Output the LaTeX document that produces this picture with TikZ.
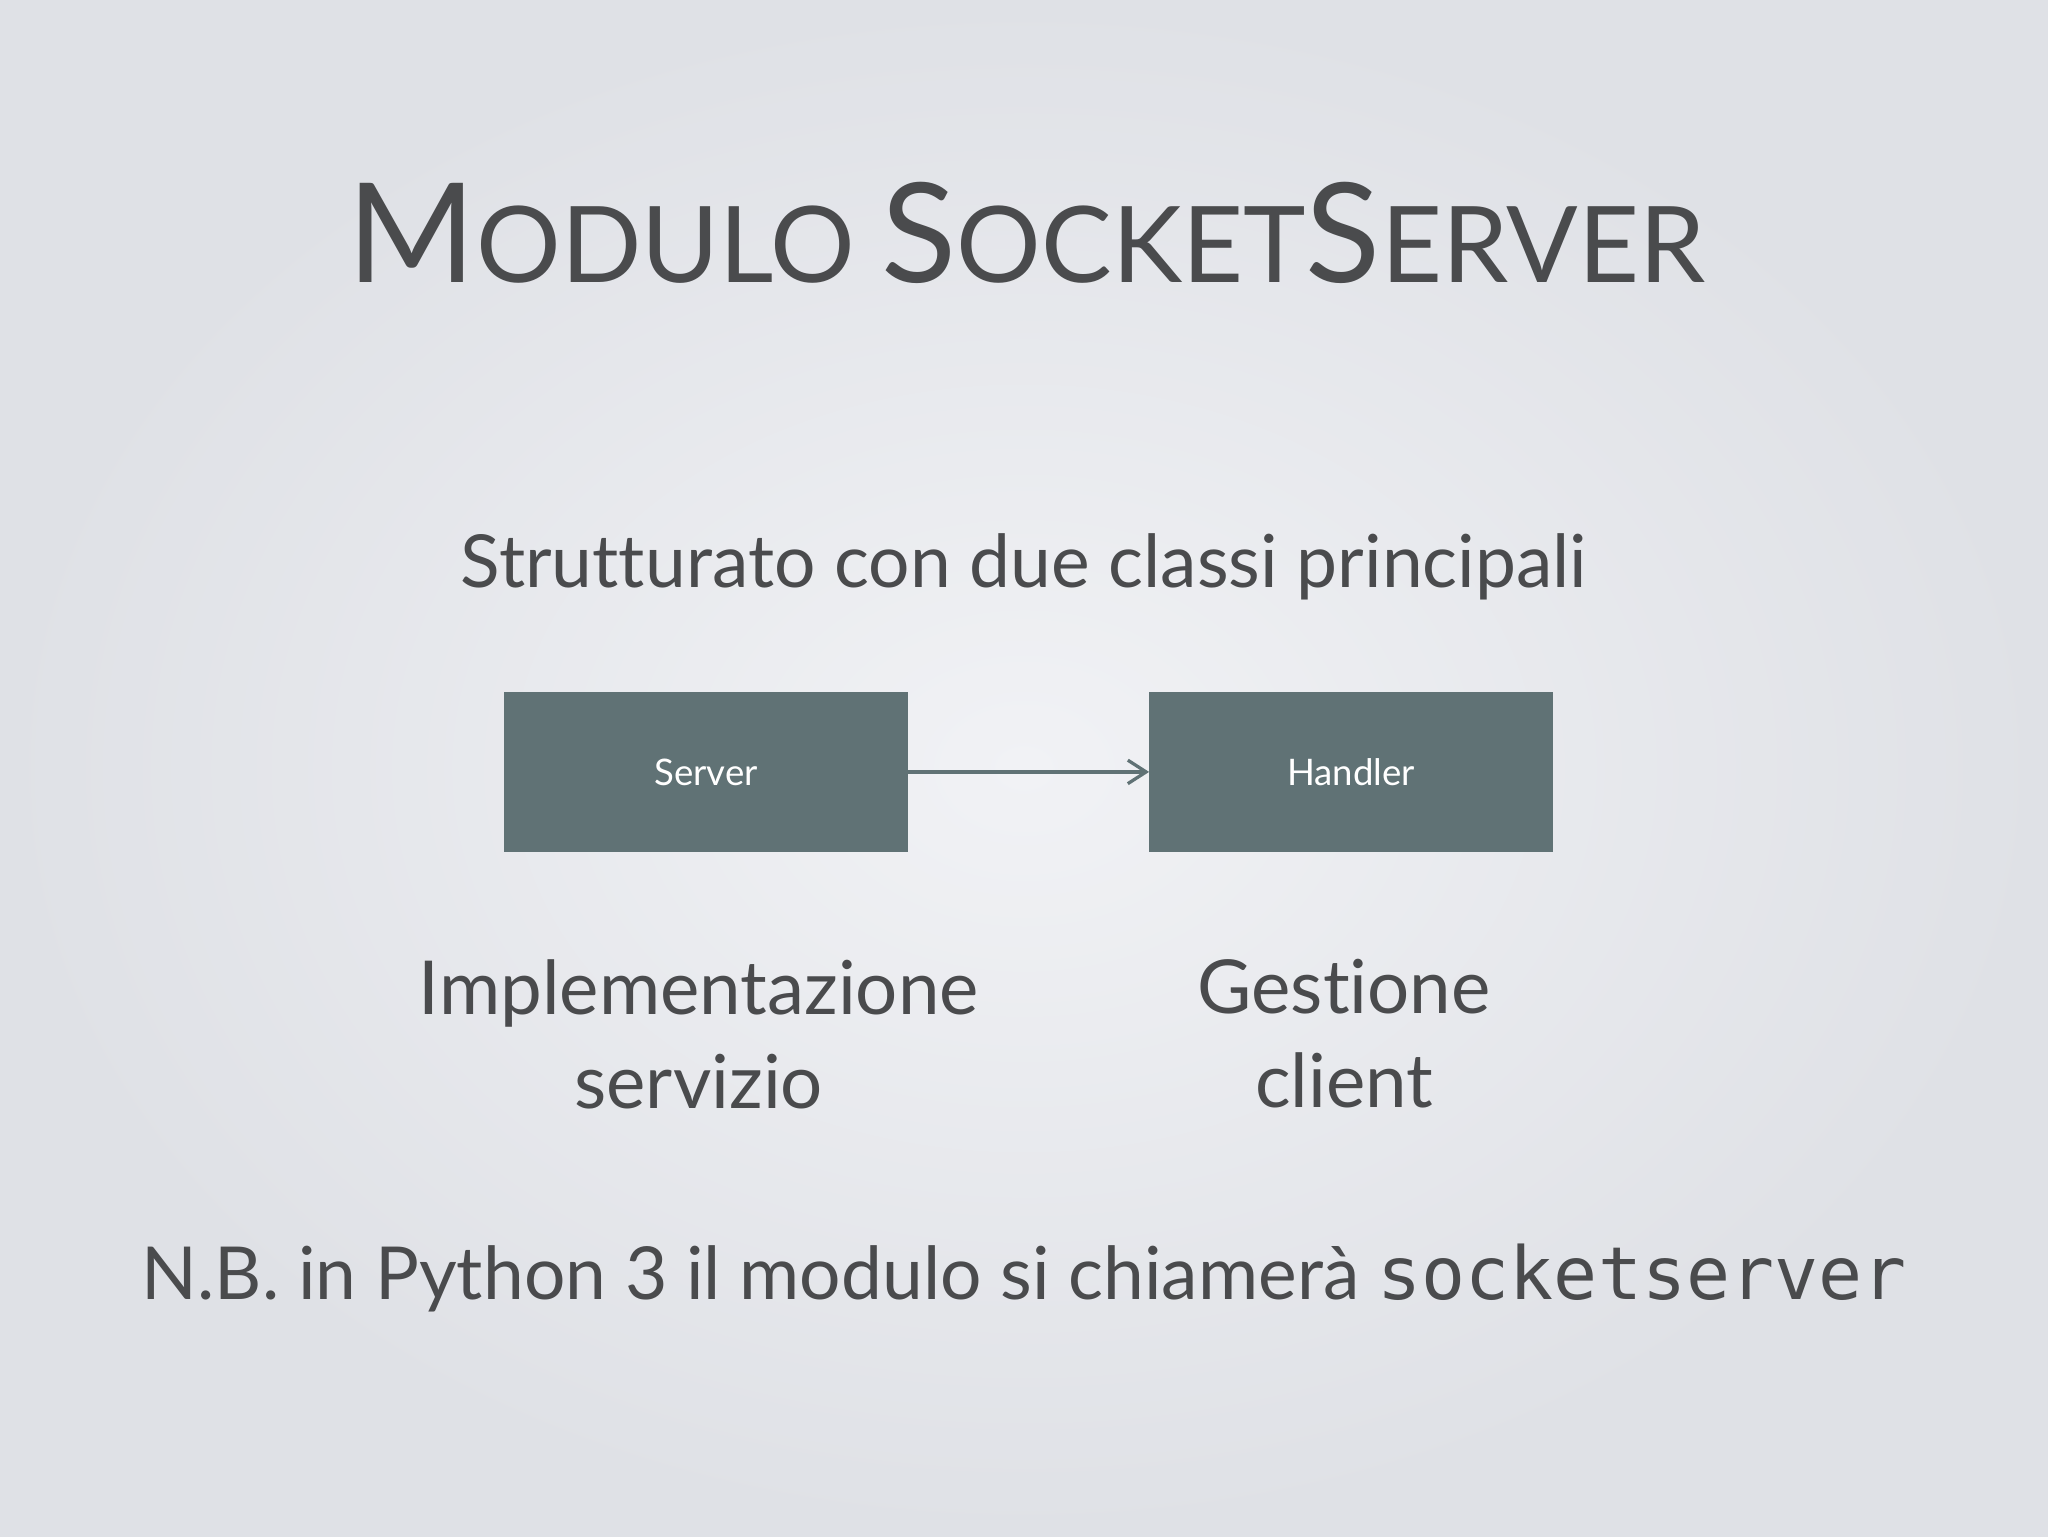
\documentclass[tikz,border=0pt]{standalone}
\usepackage{fontspec}
\setmainfont[Ligatures=NoCommon]{Lato}
\setmonofont{DejaVu Sans Mono}
\usetikzlibrary{arrows.meta}
\definecolor{txt}{HTML}{4A4B4D}
\definecolor{boxc}{HTML}{607275}
\definecolor{bgin}{HTML}{F1F2F5}
\definecolor{bgout}{HTML}{DFE1E6}
\tikzset{
  box/.style={fill=boxc,draw=none,minimum width=309pt,minimum height=122pt,inner sep=0pt,text=white,font=\fontsize{28}{34}\selectfont},
  lbl/.style={text=txt,align=center,font=\fontsize{57}{72}\selectfont,anchor=north},
}
\begin{document}
\begin{tikzpicture}[x=1pt,y=1pt]
\useasboundingbox (0,0) rectangle (1568,1176);
\shade[inner color=bgin,outer color=bgout] (0,0) rectangle (1568,1176);
\node[text=txt,anchor=base] (title) at (786,960) {\fontsize{106}{120}\selectfont M\fontsize{81}{90}\selectfont ODULO \fontsize{106}{120}\selectfont S\fontsize{81}{90}\selectfont OCKET\fontsize{106}{120}\selectfont S\fontsize{81}{90}\selectfont ERVER};
\node[text=txt,anchor=base,font=\fontsize{56}{70}\selectfont] (sub) at (784,726) {Strutturato con due classi principali};
\node[box] (server) at (540.5,585) {Server};
\node[box] (handler) at (1034.5,585) {Handler};
\draw[boxc,line width=2.5pt,-{Straight Barb[length=14pt,width=18pt]}] (server.east) -- (handler.west);
\node[lbl] (impl) at (535,445) {Implementazione\\servizio};
\node[lbl] (gest) at (1029,445) {Gestione\\client};
\node[text=txt,anchor=base,font=\fontsize{56}{70}\selectfont] (nb) at (784,181) {N.B. in Python 3 il modulo si chiamerà \texttt{socketserver}};
\end{tikzpicture}
\end{document}
